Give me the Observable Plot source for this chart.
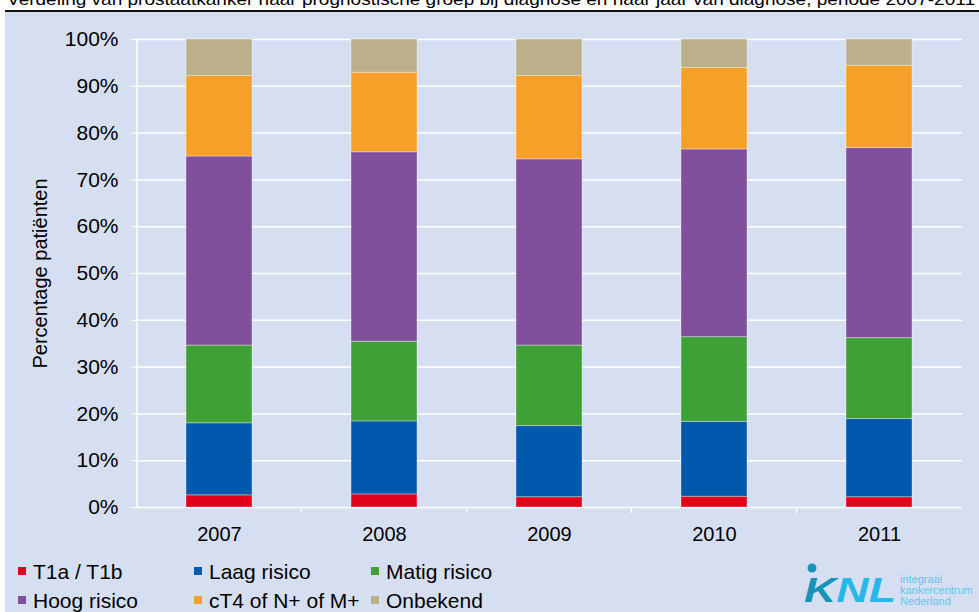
<!DOCTYPE html>
<html><head><meta charset="utf-8">
<script src="https://cdn.jsdelivr.net/npm/d3@7"></script>
<script src="https://cdn.jsdelivr.net/npm/@observablehq/plot@0.6"></script>
<style>
body{margin:0;background:#fff;font-family:Arial,"Liberation Sans",sans-serif;}
#wrap{position:relative;width:979px;height:612px;overflow:hidden;}
#panel{position:absolute;left:5px;top:12px;right:0;bottom:0;background:#d6dff2;}
#topline{position:absolute;left:5px;top:10px;width:974px;height:2px;background:#111;}
#title{position:absolute;left:0;top:0;}
#chart{position:absolute;left:0;top:0;}
.lg{position:absolute;font-size:21px;color:#000;white-space:nowrap;line-height:21px;}
.sw{position:absolute;width:8px;height:8px;}
#logo{position:absolute;left:790px;top:556px;width:189px;height:56px;overflow:visible;}
</style>
</head><body>
<div id="wrap">
  <div id="panel"></div>
  <div id="topline"></div>
  <svg id="title" width="979" height="12"><text x="7" y="5" font-size="17" font-family="Arial, Liberation Sans" textLength="968" lengthAdjust="spacingAndGlyphs">Verdeling van prostaatkanker naar prognostische groep bij diagnose en naar jaar van diagnose, periode 2007-2011</text></svg>
  <div id="chart"></div>
  <div id="legend"></div>
  <svg id="logo" width="189" height="56">
    <circle cx="22" cy="12" r="4.5" fill="#1593b8"/>
    <text x="14" y="46" font-size="35" font-weight="bold" font-style="italic" font-family="Arial, Liberation Sans" textLength="92" lengthAdjust="spacingAndGlyphs"><tspan fill="#1593b8">K</tspan><tspan fill="#25b8e8">NL</tspan></text>
    <text x="110" y="27" font-size="11" fill="#5cc8ec" font-family="Arial, Liberation Sans">integraal</text>
    <text x="110" y="38" font-size="11" fill="#5cc8ec" font-family="Arial, Liberation Sans">kankercentrum</text>
    <text x="110" y="49" font-size="11" fill="#5cc8ec" font-family="Arial, Liberation Sans">Nederland</text>
  </svg>
</div>
<script>
const years = ["2007","2008","2009","2010","2011"];
const groups = ["T1a / T1b","Laag risico","Matig risico","Hoog risico","cT4 of N+ of M+","Onbekend"];
const colors = ["#e2001a","#0059ac","#3fa035","#81509c","#f6a02a","#bbaf8c"];
const t1a      = [2.6, 2.8, 2.2, 2.3, 2.2];
const laag     = [15.4, 15.6, 15.2, 16.0, 16.7];
const matig    = [16.6, 17.0, 17.2, 18.1, 17.3];
const hoog     = [40.4, 40.5, 39.8, 40.1, 40.6];
const ct4      = [17.2, 17.0, 17.8, 17.4, 17.6];
const onbekend = [7.8, 7.1, 7.8, 6.1, 5.6];
const yTicks = [0,10,20,30,40,50,60,70,80,90,100];
const yTitle = "Percentage patiënten";

const series = [t1a, laag, matig, hoog, ct4, onbekend];
const rows = [];
years.forEach((yr, i) => groups.forEach((g, j) => rows.push({year: yr, group: g, value: series[j][i]})));

function axisLines(index, scales, values, dimensions) {
  const x = scales.x;
  const {marginLeft, marginTop, height, marginBottom} = dimensions;
  const y0 = height - marginBottom;
  const step = x(years[1]) - x(years[0]);
  const bw = typeof x.bandwidth === "function" ? x.bandwidth() : (typeof x.bandwidth === "number" ? x.bandwidth : step * 0.4);
  const g = d3.create("svg:g").attr("stroke", "white").attr("stroke-width", 1.5);
  g.append("line").attr("x1", marginLeft).attr("x2", marginLeft).attr("y1", marginTop).attr("y2", y0);
  for (let i = 0; i < years.length - 1; i++) {
    const bx = x(years[i]) + bw + (step - bw) / 2;
    g.append("line").attr("x1", bx).attr("x2", bx).attr("y1", y0).attr("y2", y0 + 6);
  }
  return g.node();
}

const chart = Plot.plot({
  width: 979,
  height: 612,
  marginLeft: 137,
  marginRight: 17,
  marginTop: 39,
  marginBottom: 105,
  style: {background: "transparent", fontFamily: "Arial, 'Liberation Sans', sans-serif", color: "#000"},
  x: {domain: years, paddingInner: 0.6, paddingOuter: 0.3, label: null},
  y: {domain: [0, 100], label: null},
  color: {domain: groups, range: colors},
  marks: [
    Plot.gridY(yTicks, {stroke: "white", strokeOpacity: 1, strokeWidth: 1.5}),
    Plot.axisY(yTicks, {tickFormat: d => d + "%", tickSize: 6, tickPadding: 13, stroke: "white", fill: "#000", fontSize: 21, label: null}),
    axisLines,
    Plot.barY(rows, {x: "year", y: "value", fill: "group", stroke: "white", strokeOpacity: 0.35, strokeWidth: 1}),
    Plot.axisX({tickSize: 0, tickPadding: 19, fontSize: 20, fill: "#000", label: null}),
    Plot.text([yTitle], {frameAnchor: "left", textAnchor: "middle", rotate: -90, dx: -97, fontSize: 20, fill: "#000"})
  ]
});
document.getElementById("chart").appendChild(chart);

const legPos = [[18, 571], [194, 571], [371, 571], [18, 600], [194, 600], [371, 600]];
const legend = document.getElementById("legend");
groups.forEach((g, i) => {
  const [lx, ly] = legPos[i];
  const sw = document.createElement("div");
  sw.className = "sw";
  sw.style.left = lx + "px"; sw.style.top = (ly - 4) + "px"; sw.style.background = colors[i];
  legend.appendChild(sw);
  const t = document.createElement("div");
  t.className = "lg";
  t.textContent = g;
  t.style.left = (lx + 15) + "px"; t.style.top = (ly - 10) + "px";
  legend.appendChild(t);
});
</script>
</body></html>
